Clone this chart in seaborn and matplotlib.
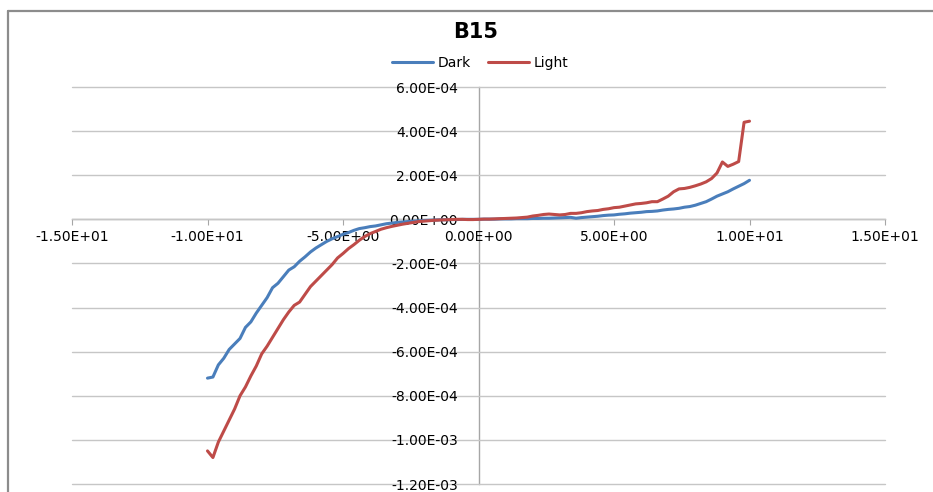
import numpy as np
import pandas as pd
import matplotlib
matplotlib.use("Agg")
import matplotlib.pyplot as plt
from matplotlib.lines import Line2D
import seaborn as sns

sns.set_style("white")
plt.rcParams['font.family'] = ['DejaVu Sans']
plt.rcParams['text.color'] = 'black'
plt.rcParams['xtick.color'] = 'black'
plt.rcParams['ytick.color'] = 'black'

# --------------------------
# Data (current in units of 1e-4, bias from -10 to 10 in 0.2 steps)
# --------------------------
voltage = np.round(np.linspace(-10, 10, 101), 1)

dark = [-7.20, -7.15, -6.60, -6.30, -5.90, -5.65, -5.40, -4.90, -4.65, -4.25,
        -3.90, -3.55, -3.10, -2.90, -2.60, -2.30, -2.15, -1.90, -1.70, -1.48,
        -1.30, -1.15, -1.00, -0.88, -0.78, -0.68, -0.60, -0.50, -0.42, -0.38,
        -0.33, -0.30, -0.25, -0.20, -0.17, -0.14, -0.12, -0.10, -0.08, -0.07,
        -0.05, -0.04, -0.03, -0.02, -0.02, -0.01, -0.01, 0.00, 0.00, 0.00,
        0.00, 0.01, 0.01, 0.01, 0.02, 0.02, 0.02, 0.03, 0.03, 0.03,
        0.04, 0.04, 0.05, 0.05, 0.06, 0.07, 0.08, 0.09, 0.05, 0.08,
        0.10, 0.12, 0.14, 0.17, 0.19, 0.20, 0.23, 0.25, 0.28, 0.30,
        0.32, 0.35, 0.36, 0.38, 0.42, 0.45, 0.47, 0.50, 0.55, 0.58,
        0.64, 0.72, 0.80, 0.92, 1.05, 1.15, 1.25, 1.38, 1.50, 1.62,
        1.77]

light = [-10.5, -10.8, -10.1, -9.6, -9.1, -8.6, -8.0, -7.6, -7.1, -6.65,
         -6.1, -5.75, -5.35, -4.95, -4.55, -4.2, -3.9, -3.75, -3.40, -3.05,
         -2.80, -2.55, -2.30, -2.05, -1.75, -1.55, -1.33, -1.15, -0.95, -0.78,
         -0.65, -0.55, -0.45, -0.38, -0.32, -0.27, -0.22, -0.18, -0.14, -0.10,
         -0.08, -0.06, -0.04, -0.03, -0.02, -0.01, 0.00, 0.00, -0.01, -0.01,
         0.00, 0.01, 0.01, 0.02, 0.03, 0.04, 0.05, 0.06, 0.08, 0.10,
         0.15, 0.18, 0.22, 0.24, 0.22, 0.20, 0.22, 0.27, 0.27, 0.30,
         0.35, 0.38, 0.40, 0.45, 0.48, 0.53, 0.55, 0.60, 0.65, 0.70,
         0.72, 0.75, 0.80, 0.80, 0.92, 1.05, 1.25, 1.38, 1.40, 1.45,
         1.52, 1.60, 1.70, 1.85, 2.10, 2.60, 2.40, 2.50, 2.62, 4.40,
         4.45]

series_names = ["Dark", "Light"]
colors = {"Dark": "#4A7EBB", "Light": "#BE4B48"}

x_ticks = [-15, -10, -5, 0, 5, 10, 15]
y_ticks = [-1.2e-3, -1.0e-3, -8e-4, -6e-4, -4e-4, -2e-4, 0, 2e-4, 4e-4, 6e-4]

df = pd.DataFrame({"V": voltage,
                   "Dark": np.array(dark) * 1e-4,
                   "Light": np.array(light) * 1e-4})
df = df.melt(id_vars="V", var_name="Series", value_name="I")

# --------------------------
# Plot
# --------------------------
W, H = 933, 492
fig = plt.figure(figsize=(W / 100, H / 100), dpi=100)
ax = fig.add_axes([72 / W, 8 / H, 813 / W, 397 / H])

sns.lineplot(data=df, x="V", y="I", hue="Series", hue_order=series_names,
             palette=colors, linewidth=2.2, ax=ax, legend=False)

ax.set_xlim(-15, 15)
ax.set_ylim(-1.2e-3, 6e-4)
ax.set_xticks(x_ticks)
ax.set_yticks(y_ticks)
ax.set_xticklabels(["{:.2E}".format(v) for v in x_ticks])
ax.set_yticklabels(["{:.2E}".format(v) for v in y_ticks])
ax.set_xlabel("")
ax.set_ylabel("")

# Excel-style axes crossing at zero
for side in ["top", "right"]:
    ax.spines[side].set_visible(False)
ax.spines["left"].set_position(("data", 0))
ax.spines["bottom"].set_position(("data", 0))
for side in ["left", "bottom"]:
    ax.spines[side].set_color("#a6a6a6")
    ax.spines[side].set_linewidth(1)
    ax.spines[side].set_zorder(0.5)

ax.yaxis.grid(True, color="#c6c6c6", linewidth=1)
ax.xaxis.grid(False)
ax.set_axisbelow(True)
ax.tick_params(axis="x", direction="out", length=4, color="#a6a6a6",
               pad=4, labelsize=10, bottom=True, labelcolor="black")
ax.tick_params(axis="y", length=0, pad=15, labelsize=10, left=True,
               labelcolor="black")
for gl in ax.get_ygridlines():
    gl.set_clip_on(False)

# Title and legend
fig.text(476 / W, 1 - 32 / H, "B15", ha="center", va="center",
         fontsize=15, fontweight="bold", color="black")
handles = [Line2D([], [], color=colors[s], linewidth=2.2) for s in series_names]
fig.legend(handles, series_names, loc="center",
           bbox_to_anchor=(480 / W, 1 - 63 / H), ncol=2, frameon=False,
           fontsize=10, handlelength=3.0, handletextpad=0.3, columnspacing=1.2)

# chart area border (left and top visible)
fig.add_artist(Line2D([8 / W, 8 / W], [0, 1 - 11 / H], transform=fig.transFigure,
                      color="#8c8c8c", linewidth=1.6))
fig.add_artist(Line2D([8 / W, 1.01], [1 - 11 / H, 1 - 11 / H], transform=fig.transFigure,
                      color="#8c8c8c", linewidth=1.6))

fig.savefig("out.png", dpi=100)
